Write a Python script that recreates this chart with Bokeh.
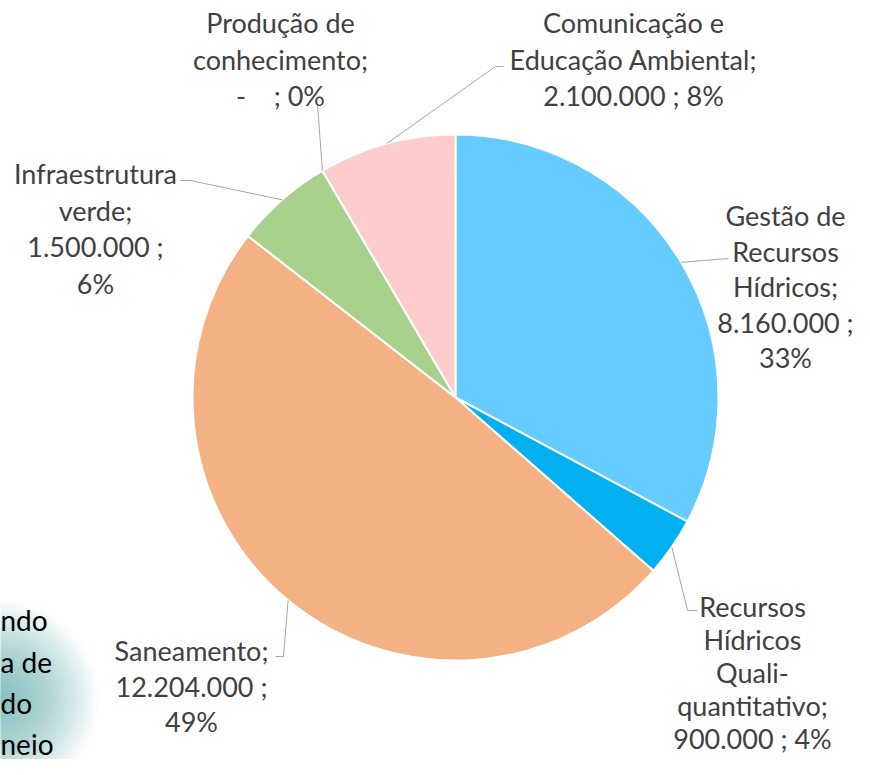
import math
from bokeh.plotting import figure
from bokeh.models import Range1d, ColumnDataSource
from bokeh.core.properties import value
from bokeh.embed import file_html
from bokeh.resources import INLINE

# ---- data ----
categories = ["Gestão de Recursos Hídricos",
              "Recursos Hídricos Quali-quantitativo",
              "Saneamento",
              "Infraestrutura verde",
              "Produção de conhecimento",
              "Comunicação e Educação Ambiental"]
values = [8160000, 900000, 12204000, 1500000, 0, 2100000]
colors = ["#66CBFF", "#00B0F0", "#F4B183", "#A9D18E", "#FFD966", "#FFCCCC"]

# label line-breaking templates ({v}=value, {p}=percent)
label_lines = [
    ["Gestão de", "Recursos", "Hídricos;", "{v} ;", "{p}"],
    ["Recursos", "Hídricos", "Quali-", "quantitativo;", "{v} ; {p}"],
    ["Saneamento;", "{v} ;", "{p}"],
    ["Infraestrutura", "verde;", "{v} ;", "{p}"],
    ["Produção de", "conhecimento;", "{v} ; {p}"],
    ["Comunicação e", "Educação Ambiental;", "{v} ; {p}"],
]

# background slide fragment text (partially visible)
slide_lines = ["ndo", "a de", "do", "neio"]

# ---- layout (screen px) ----
W, H = 854, 759
def Y(s):
    return H - s

CX, CY, R = 455, 397, 263
label_pos = [(785, 215), (752, 606), (191, 650), (95, 173), (280, 22), (633, 22)]
label_step = [35.5, 33.0, 35.5, 36.5, 36.5, 36.5]
leader_pts = [
    [(728, 258)],
    [(687, 610), (697, 610)],
    [(283, 656), (275, 656)],
    [(190, 180), (180, 180)],
    [(317, 104)],
    [(495, 66), (503, 66)],
]
slide_x = 0
slide_y = [619, 661, 702, 743]

FONT = "Lato"
FS = "27px"

p = figure(width=W, height=H, output_backend="svg",
           toolbar_location=None, x_axis_location=None, y_axis_location=None,
           x_range=Range1d(0, W), y_range=Range1d(0, H),
           min_border=0)
p.grid.visible = False
p.outline_line_color = None
p.background_fill_color = "white"

# soft teal glow behind slide text
N = 40
for i in range(N):
    r = 98 - i * 2.35
    p.circle(x=[0], y=[Y(698)], radius=r, fill_color="#6A9FB3",
             fill_alpha=0.024, line_color=None)

p.text(x=[slide_x] * len(slide_lines), y=[Y(v) for v in slide_y], text=slide_lines,
       text_font=value("Lato"), text_font_size="28px",
       text_color="#000000", text_align="left", text_baseline="middle")

total = sum(values)
cum = 0.0
starts, ends, wcol, mids = [], [], [], []
for v, c in zip(values, colors):
    c0 = cum / total
    cum += v
    c1 = cum / total
    mids.append((c0 + c1) / 2)
    if v > 0:
        starts.append(math.pi / 2 - 2 * math.pi * c0)
        ends.append(math.pi / 2 - 2 * math.pi * c1)
        wcol.append(c)

src = ColumnDataSource(dict(start=starts, end=ends, color=wcol))
p.wedge(x=CX, y=Y(CY), radius=R, start_angle="start", end_angle="end",
        direction="clock", fill_color="color", line_color="white",
        line_width=2, source=src)

def fmt(v):
    if v == 0:
        return "-\u00a0\u00a0\u00a0"
    return f"{v:,}".replace(",", ".")

tx, ty, tt = [], [], []
xs, ys = [], []
for i, v in enumerate(values):
    pct = f"{round(v / total * 100)}%"
    lx, ly = label_pos[i]
    for k, tmpl in enumerate(label_lines[i]):
        tx.append(lx)
        ty.append(Y(ly + k * label_step[i]))
        tt.append(tmpl.format(v=fmt(v), p=pct))
    a = 2 * math.pi * mids[i]
    ex = CX + R * math.sin(a)
    ey = CY - R * math.cos(a)
    pts = [(ex, ey)] + leader_pts[i]
    xs.append([q[0] for q in pts])
    ys.append([Y(q[1]) for q in pts])

p.multi_line(xs=xs, ys=ys, line_color="#A6A6A6", line_width=1)
p.text(x=tx, y=ty, text=tt, text_font=value(FONT), text_font_size=FS,
       text_color="#404040", text_align="center", text_baseline="middle")

open("out.html", "w").write(file_html(p, INLINE))
